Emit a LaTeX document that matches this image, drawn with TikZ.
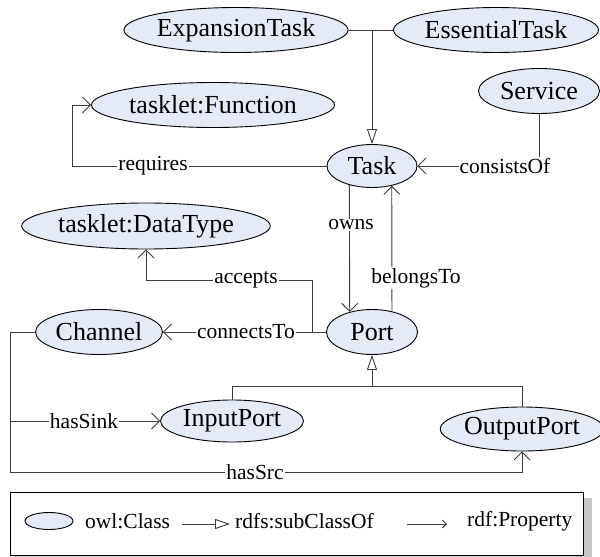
\documentclass[tikz,border=0pt]{standalone}
\usepackage{fontspec}
\setmainfont{Liberation Serif}
\usetikzlibrary{arrows.meta,shapes.geometric}
\definecolor{classfill}{RGB}{228,235,247}
\definecolor{wire}{RGB}{60,60,60}
\tikzset{
  cls/.style={ellipse, draw=black, line width=0.9pt, fill=classfill, inner sep=0pt,
              font=\fontsize{26}{30}\selectfont},
  plain/.style={draw=wire, line width=0.9pt},
  prop/.style={plain, -{Straight Barb[length=8pt,width=16pt]}},
  isa/.style={plain, -{Triangle[open, length=15pt, width=10pt, fill=white]}},
  lbl/.style={fill=white, inner sep=1pt, font=\fontsize{21.5}{24}\selectfont},
  legtext/.style={anchor=west, inner sep=0pt, font=\fontsize{21.5}{24}\selectfont},
}
\begin{document}
\begin{tikzpicture}[x=1pt, y=-1pt]
\useasboundingbox (0,0) rectangle (600,557);

% classes
\node[cls, minimum width=220pt, minimum height=45pt] (exp)  at (236,30)  {ExpansionTask};
\node[cls, minimum width=205pt, minimum height=45pt] (ess)  at (496,30)  {EssentialTask};
\node[cls, minimum width=121pt, minimum height=45pt] (svc)  at (539,91)  {Service};
\node[cls, minimum width=243pt, minimum height=45pt] (fun)  at (213,105) {tasklet:Function};
\node[cls, minimum width=90pt,  minimum height=43pt] (task) at (372,166) {Task};
\node[cls, minimum width=234pt, minimum height=46pt] (dt)   at (146,226) {tasklet:DataType};
\node[cls, minimum width=127pt, minimum height=45pt] (chan) at (99,332)  {Channel};
\node[cls, minimum width=91pt,  minimum height=45pt] (port) at (372,332) {Port};
\node[cls, minimum width=143pt, minimum height=42pt] (inp)  at (232,421) {InputPort};
\node[cls, minimum width=159pt, minimum height=44pt] (outp) at (522,429) {OutputPort};

% bend points
\coordinate (taskJoin) at (372,30);
\coordinate (reqBend)  at (72,166);
\coordinate (accFoot)  at (312,332);
\coordinate (accBendA) at (312,280);
\coordinate (accBendB) at (146,280);
\coordinate (portJoin) at (372,386);
\coordinate (busL)     at (232,386);
\coordinate (busR)     at (522,386);
\coordinate (chanBend) at (10,332);
\coordinate (sinkBend) at (10,421);
\coordinate (srcBendA) at (10,472);
\coordinate (srcBendB) at (522,472);

% subclass links
\draw[plain] (exp.east) -- (ess.west);
\draw[isa] (taskJoin) -- (task.north);
\draw[plain] (inp.north) -- (busL) -- (busR) -- (outp.north);
\draw[isa] (portJoin) -- (port.south);

% properties
\draw[prop] (task.west) -- (reqBend) |- (fun.west);
\node[lbl] at (153,166) {requires};

\draw[prop] (svc.south) |- (task.east);
\node[lbl] at (505,166) {consistsOf};

\draw[prop] (task.220.5) -- (port.138.2);
\node[lbl] at (351,225) {owns};

\draw[prop] (port.46.2) -- (task.315.2);
\node[lbl] at (416,278) {belongsTo};

\draw[prop] (port.west) -- (chan.east);
\node[lbl] at (246,332) {connectsTo};

\draw[prop] (accFoot) -- (accBendA) -- (accBendB) -- (dt.south);
\node[lbl] at (246,280) {accepts};

\draw[prop] (chan.west) -- (chanBend) -- (sinkBend) -- (inp.west);
\node[lbl] at (84,421) {hasSink};

\draw[prop] (sinkBend) -- (srcBendA) -- (srcBendB) -- (outp.south);
\node[lbl] at (255,472) {hasSrc};

% legend with drop shadow
\fill[black!22] (15,498) rectangle (592,562);
\draw[fill=white, line width=0.9pt] (10,492) rectangle (583,555);
\node[ellipse, draw=black, line width=0.9pt, fill=classfill, inner sep=0pt,
      minimum width=48pt, minimum height=17pt] (legCls) at (49,521) {};
\node[legtext] (legClsTxt) at (85,521) {owl:Class};
\coordinate (legIsaA) at (182,524);
\coordinate (legIsaB) at (230,524);
\draw[isa] (legIsaA) -- (legIsaB);
\node[legtext] (legIsaTxt) at (235,521) {rdfs:subClassOf};
\coordinate (legPropA) at (407,524);
\coordinate (legPropB) at (447,524);
\draw[plain, -{Straight Barb[length=4pt,width=8pt]}] (legPropA) -- (legPropB);
\node[legtext] (legPropTxt) at (467,521) {rdf:Property};
\end{tikzpicture}
\end{document}
